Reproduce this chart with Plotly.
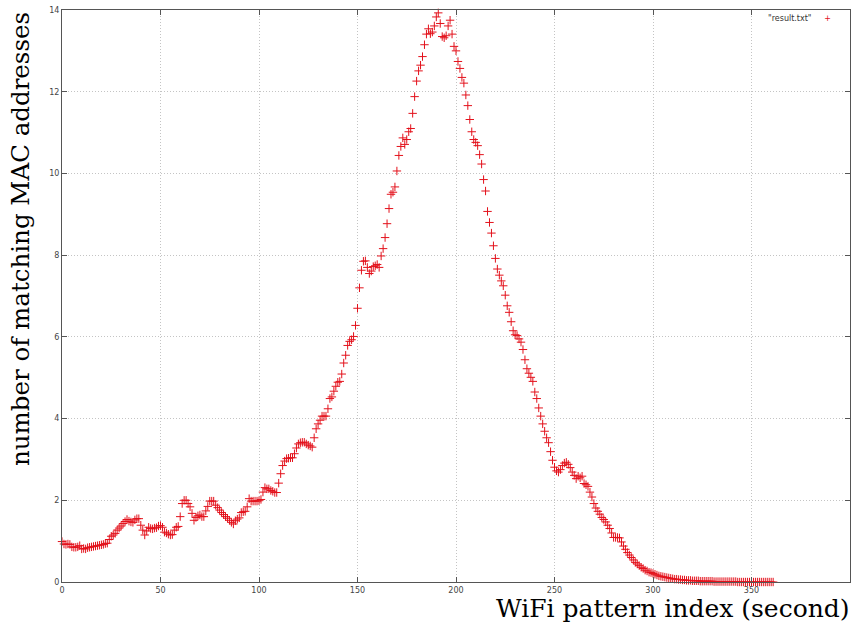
import plotly.graph_objects as go

# WiFi pattern index (seconds) and number of matching MAC addresses
pattern_index = list(range(0, 362))

matches = [
    0.99, 0.93, 0.92, 0.93, 0.92, 0.86, 0.85, 0.85, 0.86, 0.89,
    0.81, 0.82, 0.81, 0.84, 0.85, 0.86, 0.87, 0.88, 0.89, 0.90,
    0.91, 0.92, 0.94, 0.95, 1.04, 1.12, 1.15, 1.19, 1.27, 1.32,
    1.37, 1.43, 1.48, 1.53, 1.49, 1.47, 1.46, 1.52, 1.55, 1.55,
    1.39, 1.27, 1.15, 1.25, 1.34, 1.31, 1.30, 1.32, 1.33, 1.37,
    1.38, 1.34, 1.22, 1.20, 1.17, 1.15, 1.16, 1.27, 1.34, 1.36,
    1.60, 1.92, 2.00, 2.00, 1.92, 1.84, 1.68, 1.51, 1.58, 1.62,
    1.64, 1.60, 1.60, 1.74, 1.85, 1.98, 1.98, 1.98, 1.88, 1.82,
    1.76, 1.70, 1.65, 1.60, 1.56, 1.51, 1.46, 1.42, 1.50, 1.54,
    1.57, 1.70, 1.72, 1.73, 1.84, 2.04, 1.98, 1.98, 1.98, 1.98,
    1.99, 2.02, 2.20, 2.31, 2.28, 2.28, 2.24, 2.22, 2.19, 2.19,
    2.42, 2.65, 2.85, 2.96, 3.02, 3.03, 3.04, 3.04, 3.14, 3.28,
    3.38, 3.41, 3.42, 3.42, 3.38, 3.35, 3.33, 3.30, 3.53, 3.75,
    3.87, 3.96, 4.06, 4.06, 4.06, 4.24, 4.49, 4.53, 4.67, 4.79,
    4.89, 4.91, 5.09, 5.36, 5.55, 5.79, 5.89, 5.93, 6.01, 6.28,
    6.70, 7.20, 7.63, 7.85, 7.86, 7.70, 7.55, 7.61, 7.72, 7.74,
    7.77, 7.70, 7.98, 8.16, 8.43, 8.77, 9.14, 9.49, 9.54, 9.67,
    10.06, 10.44, 10.66, 10.87, 10.71, 10.83, 11.02, 11.10, 11.47, 11.88,
    12.26, 12.51, 12.65, 12.86, 13.15, 13.41, 13.54, 13.42, 13.46, 13.61,
    13.83, 13.93, 13.67, 13.35, 13.32, 13.37, 13.61, 13.75, 13.41, 13.11,
    13.00, 12.74, 12.57, 12.35, 12.21, 11.92, 11.66, 11.32, 11.02, 10.83,
    10.76, 10.68, 10.46, 10.23, 9.85, 9.57, 9.07, 8.80, 8.54, 8.23,
    7.92, 7.66, 7.51, 7.37, 7.25, 7.02, 6.76, 6.60, 6.37, 6.15,
    6.05, 6.03, 5.95, 5.87, 5.69, 5.44, 5.22, 5.11, 5.01, 4.91,
    4.65, 4.49, 4.26, 4.06, 3.87, 3.69, 3.53, 3.41, 3.19, 2.98,
    2.81, 2.72, 2.69, 2.75, 2.85, 2.91, 2.93, 2.88, 2.80, 2.69,
    2.61, 2.53, 2.59, 2.55, 2.59, 2.41, 2.38, 2.34, 2.20, 2.08,
    1.92, 1.81, 1.73, 1.66, 1.58, 1.53, 1.47, 1.39, 1.31, 1.20,
    1.09, 1.09, 1.09, 1.08, 0.98, 0.88, 0.80, 0.72, 0.66, 0.60,
    0.54, 0.48, 0.44, 0.40, 0.36, 0.33, 0.29, 0.27, 0.24, 0.23,
    0.21, 0.19, 0.17, 0.15, 0.14, 0.13, 0.12, 0.11, 0.10, 0.09,
    0.08, 0.07, 0.07, 0.06, 0.06, 0.05, 0.05, 0.04, 0.04, 0.04,
    0.03, 0.03, 0.03, 0.03, 0.02, 0.02, 0.02, 0.02, 0.02, 0.02,
    0.02, 0.01, 0.01, 0.01, 0.01, 0.01, 0.01, 0.01, 0.01, 0.01,
    0.01, 0.01, 0.01, 0.00, 0.00, 0.00, 0.00, 0.00, 0.00, 0.00,
    0.00, 0.00, 0.00, 0.00, 0.00, 0.00, 0.00, 0.00, 0.00, 0.00,
    0.00, 0.00,
]

x_ticks = [0, 50, 100, 150, 200, 250, 300, 350, 400]
y_ticks = [0, 2, 4, 6, 8, 10, 12, 14]

series_name = '"result.txt"'
x_title = "WiFi pattern index (second)"
y_title = "number of matching MAC addresses"

RED = "#e3111b"
TITLE_FONT = "DejaVu Serif"

fig = go.Figure()
fig.add_trace(go.Scatter(
    x=pattern_index,
    y=matches,
    mode="markers",
    name=series_name,
    marker=dict(symbol="cross-thin", size=6, color=RED,
                line=dict(width=1, color=RED)),
    showlegend=False,
    cliponaxis=False,
))

axis_common = dict(
    showline=True, linecolor="#555555", linewidth=1, mirror="allticks",
    ticks="inside", ticklen=5, tickcolor="#555555", tickwidth=1,
    showgrid=True, gridcolor="#c4c4c4", griddash="1px,2px", gridwidth=1,
    zeroline=False,
    tickfont=dict(family="DejaVu Sans", size=8, color="#444444"),
)

fig.update_xaxes(range=[0, 400], tickvals=x_ticks, ticktext=[str(v) for v in x_ticks],
                 **axis_common)
fig.update_yaxes(range=[0, 14], tickvals=y_ticks, ticktext=[str(v) for v in y_ticks],
                 **axis_common)

fig.update_layout(
    width=857, height=628,
    margin=dict(l=62, r=6, t=8, b=46),
    plot_bgcolor="white", paper_bgcolor="white",
    annotations=[
        dict(text=x_title, xref="paper", yref="paper", x=1.0, y=0,
             xanchor="right", yanchor="top", yshift=-10, xshift=2, showarrow=False,
             font=dict(family=TITLE_FONT, size=25, color="black")),
        dict(text=y_title, xref="paper", yref="paper", x=0, y=1.0,
             xanchor="center", yanchor="top", xshift=-42, yshift=0, textangle=-90,
             showarrow=False,
             font=dict(family=TITLE_FONT, size=24.5, color="black")),
        dict(text=series_name + '&nbsp;&nbsp;&nbsp;&nbsp;&nbsp;<span style="color:' + RED + '">+</span>',
             xref="paper", yref="paper", x=1.0, y=1.0, xanchor="right", yanchor="top",
             xshift=-17, yshift=-2, showarrow=False,
             font=dict(family="DejaVu Sans", size=8, color="#333333")),
    ],
)

fig.write_html("out.html")
